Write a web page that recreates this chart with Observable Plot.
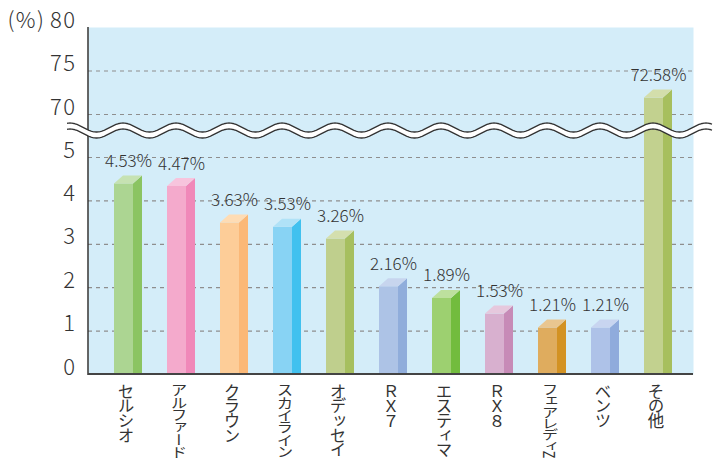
<!DOCTYPE html>
<html><head><meta charset="utf-8">
<script src="https://cdn.jsdelivr.net/npm/d3@7"></script>
<script src="https://cdn.jsdelivr.net/npm/@observablehq/plot@0.6"></script>
<style>
body{margin:0;background:#fff} svg{display:block}
svg g[font-size="22"] text{font-weight:300;letter-spacing:1.5px}
svg g[font-size="17"] text{font-weight:300}
</style>
</head><body><div id="chart"></div>
<script>
const categories = ["セルシオ","アルファード","クラウン","スカイライン","オデッセイ","ＲＸ７","エスティマ","ＲＸ８","フェアレディZ","ベンツ","その他"];
const shares = [4.53, 4.47, 3.63, 3.53, 3.26, 2.16, 1.89, 1.53, 1.21, 1.21, 72.58];
const frontColors = ["#acd592","#f4aacc","#fdcd98","#88d3f4","#bfcf8d","#adc3e6","#9dd070","#d8b0cf","#dfac5e","#aec2e8","#c2d18f"];
const sideColors  = ["#8bc462","#f088b9","#fbb877","#41c1ef","#a6bf5f","#90addb","#72bc3e","#c78bb7","#d39223","#8fabdc","#a7bf5e"];
const topColors   = ["#c6e2b2","#f7c4dd","#fedcb4","#b0e2f7","#d4dfae","#c7d5ee","#bde09e","#e6c8dd","#e9c690","#c8d5f0","#d3deab"];
const yTickValues = [0, 1, 2, 3, 4, 5, 70, 75, 80];
const gridValues = [1, 2, 3, 4, 5, 70, 75];
const unitLabel = "(%)";

const rows = categories.map((name, i) => ({name, value: shares[i], front: frontColors[i], side: sideColors[i], top: topColors[i]}));
const textColor = "#333";
const FONT = "'Noto Sans CJK JP', 'Noto Sans', sans-serif";

const SIDE = 9, DEPTH = 8, FRONT_DROP = 6;
const LABEL_MAX = 74;

const chart = Plot.plot({
  width: 718,
  height: 467,
  marginLeft: 88,
  marginRight: 25,
  marginTop: 27,
  marginBottom: 93,
  style: {fontFamily: FONT, background: "white", color: textColor, overflow: "visible"},
  x: {type: "band", domain: categories, range: [114, 672], paddingInner: 0.4717, paddingOuter: 0, align: 0.5, axis: null},
  y: {type: "linear", domain: [0, 5, 70, 80], range: [374, 157, 114, 27], axis: null},
  color: {type: "identity"},
  marks: [
    Plot.frame({fill: "#d4edf9", stroke: "none"}),
    Plot.ruleY(gridValues, {stroke: "#8e8e8e", strokeWidth: 1.2, strokeDasharray: "4,4"}),
    Plot.barY(rows, {x: "name", y: "value", fill: "front", insetTop: FRONT_DROP, insetRight: SIDE}),
    // 3D side and top faces, placed with the plot's scales
    (index, scales) => {
      const {x, y} = scales;
      const bw = x.bandwidth();
      const g = d3.create("svg:g");
      for (const r of rows) {
        const x0 = x(r.name), xf = x0 + bw - SIDE, x1 = x0 + bw;
        const yb = y(0), yt = y(r.value) + FRONT_DROP;
        g.append("path").attr("d", `M${xf},${yb}V${yt}L${x1},${yt - DEPTH}V${yb}Z`).attr("fill", r.side);
        g.append("path").attr("d", `M${x0},${yt}L${xf},${yt}L${x1},${yt - DEPTH}L${x0 + SIDE},${yt - DEPTH}Z`).attr("fill", r.top);
      }
      return g.node();
    },
    // axis lines
    (index, scales, values, dims) => {
      const g = d3.create("svg:g");
      const {y} = scales;
      g.append("line").attr("x1", dims.marginLeft).attr("x2", dims.marginLeft)
        .attr("y1", y(80)).attr("y2", y(0) + 1).attr("stroke", "#333").attr("stroke-width", 1.5);
      g.append("line").attr("x1", dims.marginLeft).attr("x2", dims.width - dims.marginRight)
        .attr("y1", y(0)).attr("y2", y(0)).attr("stroke", "#444").attr("stroke-width", 2);
      return g.node();
    },
    // axis break wave
    (index, scales, values, dims) => {
      const {x, y} = scales;
      const cy = (y(5) + y(70)) / 2 - 5;
      const period = x.step();
      const phase = x(categories[0]) + SIDE;
      const xs = d3.range(dims.marginLeft - 21, dims.width - 6 + 0.5, 1);
      const A = 4.5, H = 3;
      const wy = (px) => cy - A * Math.cos(2 * Math.PI * (px - phase) / period);
      const upper = xs.map(px => [px, wy(px) - H]);
      const lower = xs.map(px => [px, wy(px) + H]);
      const line = d3.line();
      const g = d3.create("svg:g");
      g.append("path").attr("d", line(upper.concat(lower.slice().reverse())) + "Z").attr("fill", "white");
      g.append("path").attr("d", line(upper)).attr("fill", "none").attr("stroke", "#333").attr("stroke-width", 1.3);
      g.append("path").attr("d", line(lower)).attr("fill", "none").attr("stroke", "#333").attr("stroke-width", 1.3);
      return g.node();
    },
    // y tick labels
    Plot.text(yTickValues, {y: d => d, text: d => String(d), frameAnchor: "left", dx: -12, textAnchor: "end", lineAnchor: "bottom", fontSize: 22, fill: textColor}),
    Plot.text([80], {y: d => d, text: () => unitLabel, frameAnchor: "left", dx: -43, textAnchor: "end", lineAnchor: "bottom", fontSize: 22, fill: textColor}),
    // value labels
    Plot.text(rows, {x: "name", y: "value", text: d => d.value.toFixed(2) + "%", dy: -11, lineAnchor: "bottom", fontSize: 17, fill: textColor}),
    // vertical category labels
    (index, scales) => {
      const {x, y} = scales;
      const g = d3.create("svg:g").attr("font-size", 16.5).attr("fill", textColor).attr("font-family", "'Noto Sans CJK JP'").attr("text-anchor", "start");
      for (const c of categories) {
        const t = g.append("text")
          .attr("x", x(c) + x.bandwidth() / 2 - 2)
          .attr("y", y(0) + 9)
          .attr("fill", textColor)
          .attr("text-anchor", "start")
          .attr("style", "writing-mode: vertical-rl; text-orientation: mixed; font-weight: 400; letter-spacing: -1.8px; font-family: 'Noto Sans CJK JP'")
          .text(c);
        if ([...c].length > 5) t.attr("textLength", LABEL_MAX).attr("lengthAdjust", "spacingAndGlyphs");
      }
      return g.node();
    }
  ]
});
document.getElementById("chart").appendChild(chart);
</script>
</body></html>
